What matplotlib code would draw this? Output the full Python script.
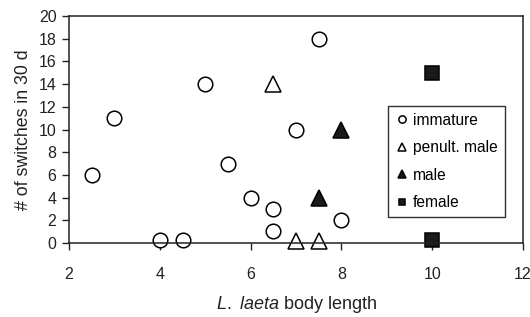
import matplotlib
matplotlib.use("Agg")
import matplotlib.pyplot as plt

plt.rcParams['font.family'] = ['Liberation Sans', 'DejaVu Sans']
plt.rcParams['mathtext.fontset'] = 'custom'
plt.rcParams['mathtext.rm'] = 'Liberation Sans'
plt.rcParams['mathtext.it'] = 'Liberation Sans:italic'

# data
imm_x = [2.5, 3, 4, 4.5, 5, 5.5, 6, 6.5, 6.5, 7, 7.5, 8]
imm_y = [6, 11, 0.25, 0.25, 14, 7, 4, 3, 1.1, 10, 18, 2]
pen_x = [6.5, 7, 7.5]
pen_y = [14, 0.2, 0.2]
male_x = [7.5, 8]
male_y = [4, 10]
fem_x = [10, 10]
fem_y = [15, 0.25]

fig = plt.figure(figsize=(5.3, 3.17), dpi=100)
ax = fig.add_axes([69/530, 1 - 243/317, (523-69)/530, (243-16)/317])

ax.plot(imm_x, imm_y, 'o', ms=10.5, mfc='white', mec='black', mew=1.1, label='immature', clip_on=False)
ax.plot(pen_x, pen_y, '^', ms=11, mfc='white', mec='black', mew=1.1, label='penult. male', clip_on=False)
ax.plot(male_x, male_y, '^', ms=11, mfc='#1a1a1a', mec='black', mew=1.1, label='male', clip_on=False)
ax.plot(fem_x, fem_y, 's', ms=9.5, mfc='#1a1a1a', mec='black', mew=1.1, label='female', clip_on=False)

ax.set_xlim(2, 12)
ax.set_ylim(0, 20)
ax.set_xticks(range(2, 13, 2))
ax.set_yticks(range(0, 21, 2))
ax.tick_params(direction='out', length=5, width=1, labelsize=11.5, pad=4, colors='#222222')
ax.tick_params(axis='x', pad=12)
for s in ax.spines.values():
    s.set_linewidth(1.1)
    s.set_color('#222222')

ax.set_ylabel('# of switches in 30 d', fontsize=12.8, labelpad=5, color='#222222')
ax.set_xlabel(r'$\mathit{L.\ laeta}$ body length', fontsize=13, labelpad=9, color='#222222')

leg = ax.legend(loc='upper left', bbox_to_anchor=(0.703, 0.605), fontsize=11.2,
                markerscale=0.5, handletextpad=0.25, handlelength=0.9,
                labelspacing=0.8, borderpad=0.45, borderaxespad=0,
                fancybox=False, frameon=True)
leg.get_frame().set_edgecolor('black')
leg.get_frame().set_linewidth(1.0)

fig.savefig('out.png', dpi=100)
